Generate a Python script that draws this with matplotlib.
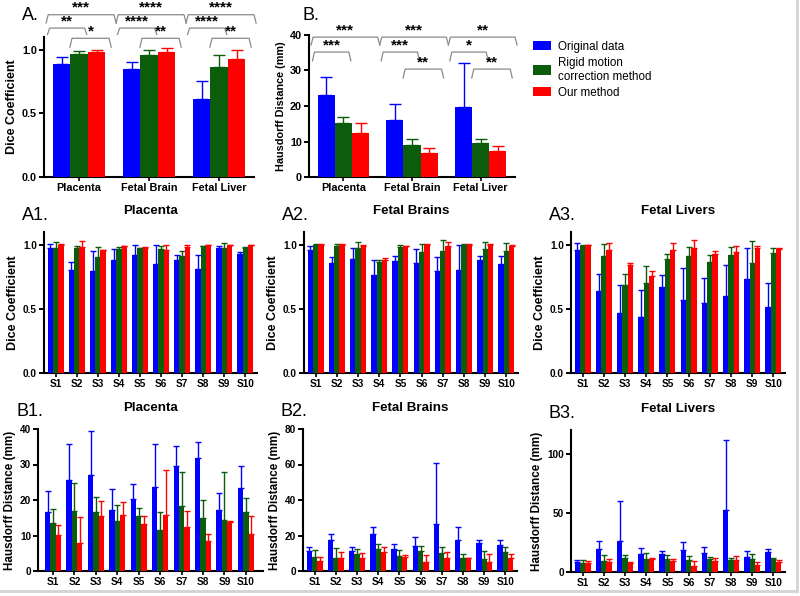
import numpy as np
import matplotlib
matplotlib.use("Agg")
import matplotlib.pyplot as plt
from matplotlib.patches import Patch
from matplotlib.lines import Line2D

plt.rcParams["font.family"] = ["Liberation Sans", "DejaVu Sans"]

methods = ["Original data", "Rigid motion\ncorrection method", "Our method"]
colors = ["#0000ff", "#0b5d0b", "#ff0000"]

organs = ["Placenta", "Fetal Brain", "Fetal Liver"]
subjects = ["S1", "S2", "S3", "S4", "S5", "S6", "S7", "S8", "S9", "S10"]

# panel A: Dice, mean / upper error per method
a_mean = [[0.885, 0.85, 0.61], [0.965, 0.96, 0.865], [0.985, 0.98, 0.925]]
a_err = [[0.06, 0.05, 0.145], [0.025, 0.035, 0.095], [0.01, 0.035, 0.075]]
a_sig = [["***", "**", "*"], ["****", "****", "**"], ["****", "****", "**"]]

# panel B: Hausdorff
b_mean = [[23.2, 16.0, 19.7], [15.2, 9.0, 9.6], [12.3, 6.8, 7.3]]
b_err = [[5.1, 4.5, 12.3], [1.8, 1.6, 1.2], [2.8, 1.5, 1.4]]
b_sig = [["***", "***", ""], ["***", "***", "**"], ["**", "*", "**"]]

# A1 placenta dice per subject
a1_mean = [[0.974, 0.806, 0.793, 0.879, 0.922, 0.853, 0.879, 0.814, 0.977, 0.930],
           [0.974, 0.974, 0.904, 0.964, 0.974, 0.969, 0.912, 0.987, 0.977, 0.977],
           [1.0, 0.98, 0.956, 0.99, 0.977, 0.956, 0.982, 0.997, 0.995, 0.997]]
a1_err = [[0.036, 0.057, 0.155, 0.087, 0.075, 0.147, 0.038, 0.103, 0.013, 0.013],
          [0.046, 0.016, 0.078, 0.018, 0.005, 0.021, 0.039, 0.005, 0.036, 0.005],
          [0.003, 0.05, 0.003, 0.003, 0.003, 0.044, 0.018, 0.003, 0.003, 0.003]]

# A2 fetal brains dice
a2_mean = [[0.961, 0.857, 0.888, 0.766, 0.870, 0.862, 0.797, 0.805, 0.878, 0.852],
           [1.0, 0.987, 0.974, 0.865, 0.982, 0.943, 0.948, 1.0, 0.966, 0.948],
           [1.0, 1.0, 0.992, 0.878, 0.987, 1.0, 0.987, 1.0, 1.0, 0.992]]
a2_err = [[0.026, 0.047, 0.091, 0.117, 0.044, 0.104, 0.107, 0.195, 0.031, 0.057],
          [0.003, 0.023, 0.046, 0.018, 0.018, 0.062, 0.086, 0.003, 0.054, 0.065],
          [0.003, 0.003, 0.003, 0.021, 0.003, 0.003, 0.033, 0.003, 0.003, 0.003]]

# A3 fetal livers dice
a3_mean = [[0.961, 0.636, 0.465, 0.436, 0.668, 0.566, 0.545, 0.597, 0.732, 0.514],
           [0.987, 0.914, 0.688, 0.706, 0.888, 0.914, 0.865, 0.919, 0.857, 0.940],
           [0.995, 0.956, 0.844, 0.758, 0.961, 0.974, 0.930, 0.943, 0.979, 0.966]]
a3_err = [[0.052, 0.138, 0.223, 0.208, 0.098, 0.252, 0.2, 0.247, 0.242, 0.192],
          [0.008, 0.094, 0.086, 0.125, 0.039, 0.068, 0.057, 0.063, 0.169, 0.034],
          [0.003, 0.057, 0.018, 0.034, 0.052, 0.065, 0.018, 0.044, 0.008, 0.008]]

# B1 placenta hausdorff
b1_mean = [[16.5, 25.6, 27.0, 17.3, 20.4, 23.6, 29.5, 31.7, 17.1, 23.4],
           [13.6, 16.8, 16.5, 14.1, 15.5, 11.5, 18.2, 14.8, 14.5, 16.5],
           [10.1, 8.0, 15.5, 15.7, 13.1, 15.9, 12.4, 8.5, 13.8, 10.5]]
b1_err = [[6.1, 10.3, 12.5, 5.9, 4.2, 12.3, 5.8, 4.7, 5.0, 6.2],
          [3.8, 8.1, 4.4, 4.6, 2.3, 5.0, 9.6, 5.1, 13.3, 4.1],
          [2.8, 7.1, 4.2, 3.6, 2.4, 12.5, 4.4, 1.8, 0.4, 5.0]]

# B2 fetal brains hausdorff
b2_mean = [[11.3, 17.4, 11.4, 20.8, 12.4, 14.3, 26.5, 17.4, 15.6, 14.6],
           [8.1, 7.1, 9.4, 12.4, 8.6, 11.3, 9.9, 7.5, 6.8, 10.5],
           [5.8, 7.1, 7.1, 10.9, 8.1, 5.3, 7.1, 7.1, 4.9, 7.5]]
b2_err = [[2.0, 3.2, 2.3, 3.8, 2.6, 5.0, 34.5, 7.2, 1.8, 2.8],
          [3.7, 5.7, 2.8, 2.6, 3.2, 3.0, 3.8, 2.1, 4.6, 3.2],
          [1.9, 3.8, 2.8, 2.8, 0.9, 3.7, 3.4, 0.3, 4.7, 2.1]]

# B3 fetal livers hausdorff
b3_mean = [[8.4, 19.6, 26.1, 15.4, 14.8, 19.0, 16.0, 52.7, 12.9, 16.8],
           [7.6, 9.2, 11.8, 11.2, 11.2, 9.8, 11.2, 10.4, 10.6, 10.6],
           [7.6, 8.4, 7.8, 10.6, 9.0, 5.0, 9.2, 10.4, 5.6, 8.4]]
b3_err = [[2.0, 6.2, 33.6, 5.0, 2.8, 6.2, 5.0, 58.8, 4.7, 2.8],
          [2.2, 5.4, 2.2, 5.0, 3.4, 3.6, 1.4, 1.6, 4.8, 1.2],
          [1.6, 2.8, 0.3, 1.2, 2.2, 4.0, 2.8, 3.0, 2.8, 1.4]]


def px(x0, y0, x1, y1):
    # pixel box (left, top, right, bottom) -> figure fraction rect
    W, H = 800.0, 596.0
    return [x0 / W, 1 - y1 / H, (x1 - x0) / W, (y1 - y0) / H]


def style(ax, fs):
    for s in ("top", "right"):
        ax.spines[s].set_visible(False)
    for s in ("left", "bottom"):
        ax.spines[s].set_linewidth(1.5)
    ax.tick_params(axis="y", length=3.5, width=1.4, labelsize=fs, pad=1.5)
    ax.tick_params(axis="x", length=3, width=1.2, labelsize=fs, pad=1.5)
    for lab in ax.get_xticklabels() + ax.get_yticklabels():
        lab.set_fontweight("bold")


def bars(ax, means, errs, capsize):
    n = len(means[0])
    idx = np.arange(n)
    for k in range(3):
        x = idx + (k - 1) * 0.25
        ax.bar(x, means[k], width=0.25, color=colors[k], zorder=3)
        ax.errorbar(x, means[k], yerr=[np.zeros(n), errs[k]], fmt="none",
                    ecolor=colors[k], elinewidth=1.0, capsize=capsize,
                    capthick=1.0, zorder=2)


def bracket(ax, x0, x1, y, drop, text):
    ax.plot([x0 - 0.03, x0, x1, x1 + 0.03], [y - drop, y, y, y - drop],
            color="#8a8a8a", lw=0.9, clip_on=False)
    if text:
        ax.text((x0 + x1) / 2, y, text, ha="center", va="bottom",
                fontsize=11, fontweight="bold", clip_on=False)


spans = [(-0.44, 0.5), (-0.42, 0.08), (-0.1, 0.43)]

fig = plt.figure(figsize=(8, 5.96), dpi=100)

# ---- A
ax = fig.add_axes(px(44, 37, 254, 177))
bars(ax, a_mean, a_err, 4)
ax.set_xlim(-0.5, 2.5)
ax.set_ylim(0, 1.1)
ax.set_yticks([0, 0.5, 1.0])
ax.set_xticks(range(3))
ax.set_xticklabels(organs)
ax.set_ylabel("Dice Coefficient", fontsize=9, fontweight="bold", labelpad=3)
style(ax, 7.8)
levels_a = [(1.275, 0.065), (1.17, 0.05), (1.09, 0.07)]
for g in range(3):
    for j in range(3):
        s0, s1 = spans[j]
        bracket(ax, g + s0, g + s1, levels_a[j][0], levels_a[j][1], a_sig[g][j])
fig.text(22 / 800, 1 - 15 / 596, "A.", fontsize=13, va="center")

# ---- B
ax = fig.add_axes(px(309, 35, 515, 177))
bars(ax, b_mean, b_err, 4)
ax.set_xlim(-0.5, 2.5)
ax.set_ylim(0, 40)
ax.set_yticks([0, 10, 20, 30, 40])
ax.set_xticks(range(3))
ax.set_xticklabels(organs)
ax.set_ylabel("Hausdorff Distance (mm)", fontsize=7.8, fontweight="bold", labelpad=3)
style(ax, 7.8)
levels_b = [(39.4, 2.2), (35.2, 2.5), (30.4, 2.5)]
for g in range(3):
    for j in range(3):
        if not b_sig[g][j]:
            continue
        s0, s1 = spans[j]
        bracket(ax, g + s0, g + s1, levels_b[j][0], levels_b[j][1], b_sig[g][j])
fig.text(303 / 800, 1 - 15 / 596, "B.", fontsize=13, va="center")

# legend
handles = [Patch(facecolor=c, edgecolor="none") for c in colors]
fig.legend(handles, methods, loc="upper left", bbox_to_anchor=(528 / 800, 1 - 36 / 596),
           frameon=False, fontsize=8.4, handlelength=1.6, handleheight=0.9,
           handletextpad=0.6, labelspacing=0.35, borderaxespad=0)

# ---- small panels
small = [
    ("A1.", "Placenta", a1_mean, a1_err, (44, 232, 257, 373), (0, 1.1), [0, 0.5, 1.0], "Dice Coefficient", 9),
    ("A2.", "Fetal Brains", a2_mean, a2_err, (304, 232, 518, 373), (0, 1.1), [0, 0.5, 1.0], "Dice Coefficient", 9),
    ("A3.", "Fetal Livers", a3_mean, a3_err, (571, 232, 785, 373), (0, 1.1), [0, 0.5, 1.0], "Dice Coefficient", 9),
    ("B1.", "Placenta", b1_mean, b1_err, (38, 429, 263, 571), (0, 40), [0, 10, 20, 30, 40], "Hausdorff Distance (mm)", 8.4),
    ("B2.", "Fetal Brains", b2_mean, b2_err, (303, 429, 517, 571), (0, 80), [0, 20, 40, 60, 80], "Hausdorff Distance (mm)", 8.4),
    ("B3.", "Fetal Livers", b3_mean, b3_err, (571, 430, 785, 572), (0, 120), [0, 50, 100], "Hausdorff Distance (mm)", 8.4),
]
for tag, title, means, errs, box, ylim, yt, ylab, ylfs in small:
    ax = fig.add_axes(px(*box))
    bars(ax, means, errs, 2.5)
    if tag == "B1.":
        ax.set_xlim(-0.7, 9.8)
    else:
        ax.set_xlim(-0.55, 9.55)
    ax.set_ylim(*ylim)
    ax.set_yticks(yt)
    ax.set_xticks(range(len(subjects)))
    ax.set_xticklabels(subjects)
    ax.set_ylabel(ylab, fontsize=ylfs, fontweight="bold", labelpad=3)
    style(ax, 7.2)
    cx = (box[0] + box[2]) / 2 / 800
    fig.text(cx, 1 - (box[1] - 21) / 596, title, fontsize=9.6, fontweight="bold",
             ha="center", va="center")
    fig.text((box[0] - 22) / 800, 1 - (box[1] - 17) / 596, tag, fontsize=13, va="center")

# faint frame shadow on right and bottom
fig.add_artist(Line2D([0.996, 0.996], [0.008, 1], transform=fig.transFigure,
                      color="#d4d4d4", lw=2))
fig.add_artist(Line2D([0, 0.996], [0.008, 0.008], transform=fig.transFigure,
                      color="#d4d4d4", lw=2))

fig.savefig("out.png", dpi=100, facecolor="white")
